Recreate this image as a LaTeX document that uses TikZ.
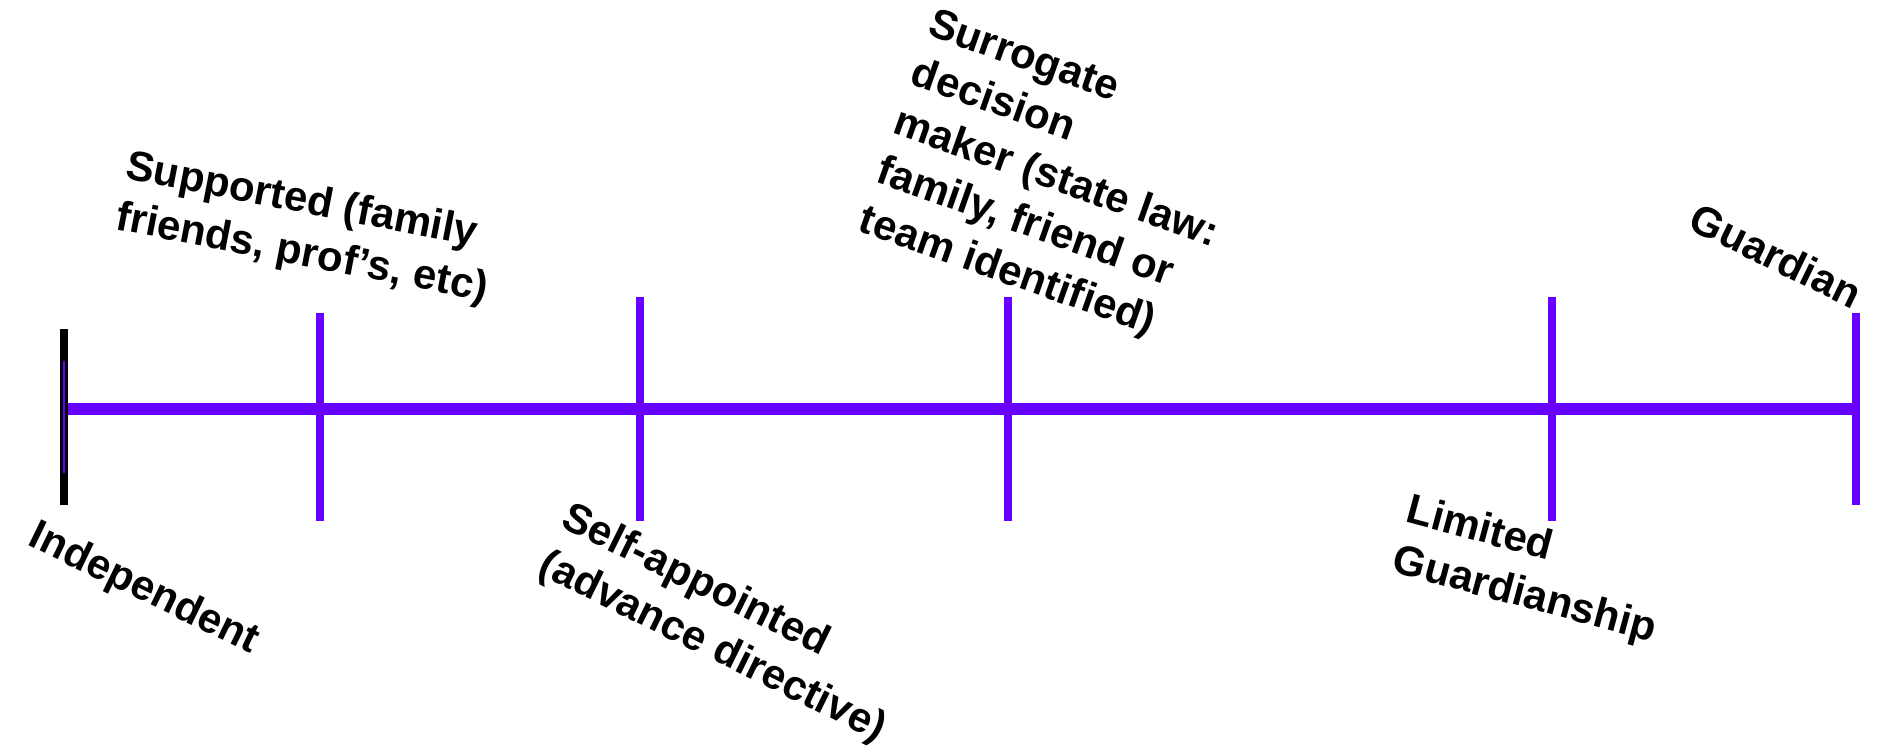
\documentclass[tikz,border=0pt]{standalone}
\usepackage{fontspec}
\setmainfont{Liberation Sans}
\usepackage{tikz}
\definecolor{violetline}{HTML}{6600FF}

\begin{document}
\begin{tikzpicture}[x=1pt,y=-1pt,every node/.style = {inner sep=0pt, anchor=north west, align=left,
					font=\fontsize{42}{52}\selectfont\bfseries}]

\tikzstyle{tick_mark}=[violetline, line width=8pt]
\tikzstyle{main_line}=[violetline, line width=12pt]

\useasboundingbox (0,0) rectangle (1878,753);

\coordinate (start) at (64,409);
\coordinate (finish) at (1856,409);

\draw[main_line] (start) -- (finish);
\foreach \tx/\ta/\tb in {320/313/521, 640/297/521, 1008/297/521, 1552/297/521, 1856/313/505}
	\draw[tick_mark] (\tx,\ta) -- (\tx,\tb);
\draw[black, line width=8pt] (64,329) -- (64,505);
\draw[violetline, line width=2pt] (64,361) -- (64,473);

\node[rotate=-26] (independent) at (40,517) {Independent};
\node[rotate=-11] (supported) at (130,148) {Supported (family\\friends, prof’s, etc)};
\node[rotate=-26.3] (self_appointed) at (573,499) {Self-appointed\\(advance directive)};
\node[rotate=-19.5] (surrogate) at (936,7) {Surrogate\\decision\\maker (state law:\\family, friend or\\team identified)};
\node[rotate=-15] (limited) at (1412,492) {Limited\\Guardianship};
\node[rotate=-26] (guardian) at (1700,201) {Guardian};
\end{tikzpicture}
\end{document}
